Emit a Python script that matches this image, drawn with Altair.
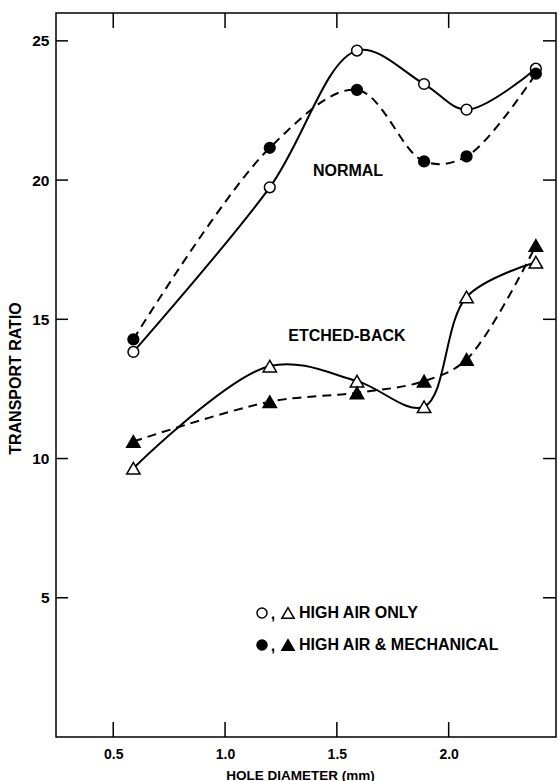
import altair as alt
import pandas as pd

# ---- data ----
hole_diameter = [0.59, 1.2, 1.59, 1.89, 2.08, 2.39]
normal_air = [13.83, 19.74, 24.65, 23.45, 22.53, 24.0]
normal_mech = [14.28, 21.16, 23.24, 20.67, 20.85, 23.82]
etched_air = [9.65, 13.32, 12.78, 11.86, 15.8, 17.05]
etched_mech = [10.61, 12.04, 12.36, 12.78, 13.56, 17.65]

x_ticks = [0.5, 1.0, 1.5, 2.0]
y_ticks = [5, 10, 15, 20, 25]

annot_labels = ["NORMAL", "ETCHED-BACK"]
annot_x = [1.55, 1.545]
annot_y = [20.33, 14.4]

legend_labels = ["HIGH AIR ONLY", "HIGH AIR & MECHANICAL"]

rows = []
for panel, method, vals in [
    ("normal", "air", normal_air),
    ("normal", "mech", normal_mech),
    ("etched", "air", etched_air),
    ("etched", "mech", etched_mech),
]:
    for xv, yv in zip(hole_diameter, vals):
        rows.append({"x": xv, "y": yv, "panel": panel, "method": method})
df = pd.DataFrame(rows)

W, H = 500, 724
XDOM = [0.244, 2.48]
YDOM = [0, 26]

xscale = alt.Scale(domain=XDOM, nice=False, zero=False)
yscale = alt.Scale(domain=YDOM, nice=False, zero=False)

x_axis = alt.Axis(
    values=x_ticks, format=".1f", ticks=False, domain=False, grid=False,
    labelFontSize=14, labelFontWeight="bold", labelPadding=10, labelColor="black",
    title="HOLE DIAMETER (mm)", titleFontSize=13.5, titleFontWeight="bold",
    titleColor="black", titleX=244, titleY=42, titleBaseline="alphabetic",
    titleAlign="center",
)
y_axis = alt.Axis(
    values=y_ticks, ticks=False, domain=False, grid=False,
    labelFontSize=15.5, labelPadding=7, labelColor="black", labelFontWeight="bold",
    title="TRANSPORT RATIO", titleFontSize=16, titleFontWeight="bold",
    titleColor="black", titleX=-40.5, titleY=365, titleAngle=270,
    titleAlign="center", titleBaseline="middle",
)

X = alt.X("x:Q", scale=xscale, axis=x_axis)
Y = alt.Y("y:Q", scale=yscale, axis=y_axis)

base = alt.Chart(df)

solid = base.transform_filter(alt.datum.method == "air").mark_line(
    interpolate="catmull-rom", color="black", strokeWidth=2
).encode(x=X, y=Y, detail="panel:N")

dashed = base.transform_filter(alt.datum.method == "mech").mark_line(
    interpolate="catmull-rom", color="black", strokeWidth=2, strokeDash=[9, 6]
).encode(x=X, y=Y, detail="panel:N")

points = base.mark_point(filled=True, stroke="black", strokeWidth=1.5, opacity=1).encode(
    x=X, y=Y,
    shape=alt.Shape("panel:N", scale=alt.Scale(domain=["normal", "etched"], range=["circle", "triangle-up"]), legend=None),
    fill=alt.Fill("method:N", scale=alt.Scale(domain=["air", "mech"], range=["white", "black"]), legend=None),
    size=alt.Size("panel:N", scale=alt.Scale(domain=["normal", "etched"], range=[115, 180]), legend=None),
)

annot_df = pd.DataFrame({"x": annot_x, "y": annot_y, "label": annot_labels})
annots = alt.Chart(annot_df).mark_text(
    fontSize=16, fontWeight="bold", color="black", align="center", baseline="middle"
).encode(x=X, y=Y, text="label:N")

# ---- inward tick marks on all four sides ----
yt = pd.DataFrame({"y": y_ticks})
xt = pd.DataFrame({"x": x_ticks})
tick_style = dict(color="black", strokeWidth=1.5)
left_ticks = alt.Chart(yt).mark_rule(**tick_style).encode(y=Y, x=alt.value(0), x2=alt.value(12))
right_ticks = alt.Chart(yt).mark_rule(**tick_style).encode(y=Y, x=alt.value(W - 13), x2=alt.value(W))
bottom_ticks = alt.Chart(xt).mark_rule(**tick_style).encode(x=X, y=alt.value(H - 15), y2=alt.value(H))
top_ticks = alt.Chart(xt).mark_rule(**tick_style).encode(x=X, y=alt.value(0), y2=alt.value(15))

# ---- legend (drawn inside the plot) ----
ly1, ly2 = 600, 632
leg_sym_style = dict(stroke="black", strokeWidth=1.5, filled=True, opacity=1)
one = pd.DataFrame({"a": [0]})
leg = [
    alt.Chart(one).mark_point(shape="circle", fill="white", size=100, **leg_sym_style).encode(x=alt.value(206), y=alt.value(ly1)),
    alt.Chart(one).mark_point(shape="triangle-up", fill="white", size=150, **leg_sym_style).encode(x=alt.value(232), y=alt.value(ly1)),
    alt.Chart(one).mark_point(shape="circle", fill="black", size=100, **leg_sym_style).encode(x=alt.value(206), y=alt.value(ly2)),
    alt.Chart(one).mark_point(shape="triangle-up", fill="black", size=150, **leg_sym_style).encode(x=alt.value(232), y=alt.value(ly2)),
    alt.Chart(pd.DataFrame({"t": [","]})).mark_text(fontSize=16, fontWeight="bold", color="black", align="center", baseline="alphabetic").encode(x=alt.value(217), y=alt.value(ly1 + 6), text="t:N"),
    alt.Chart(pd.DataFrame({"t": [","]})).mark_text(fontSize=16, fontWeight="bold", color="black", align="center", baseline="alphabetic").encode(x=alt.value(217), y=alt.value(ly2 + 6), text="t:N"),
    alt.Chart(pd.DataFrame({"t": [legend_labels[0]]})).mark_text(fontSize=16, fontWeight="bold", color="black", align="left", baseline="middle").encode(x=alt.value(243), y=alt.value(ly1), text="t:N"),
    alt.Chart(pd.DataFrame({"t": [legend_labels[1]]})).mark_text(fontSize=16, fontWeight="bold", color="black", align="left", baseline="middle").encode(x=alt.value(243), y=alt.value(ly2), text="t:N"),
]

chart = alt.layer(
    solid, dashed, points, annots,
    left_ticks, right_ticks, bottom_ticks, top_ticks,
    *leg,
).properties(
    width=W, height=H,
    autosize=alt.AutoSizeParams(type="none"),
    padding={"left": 56, "top": 13, "right": 3, "bottom": 44},
).configure(
    font="Liberation Sans", background="white",
).configure_view(
    stroke="black", strokeWidth=1.5,
)

chart.save("out.html", embed_options={"renderer": "svg", "actions": False})
